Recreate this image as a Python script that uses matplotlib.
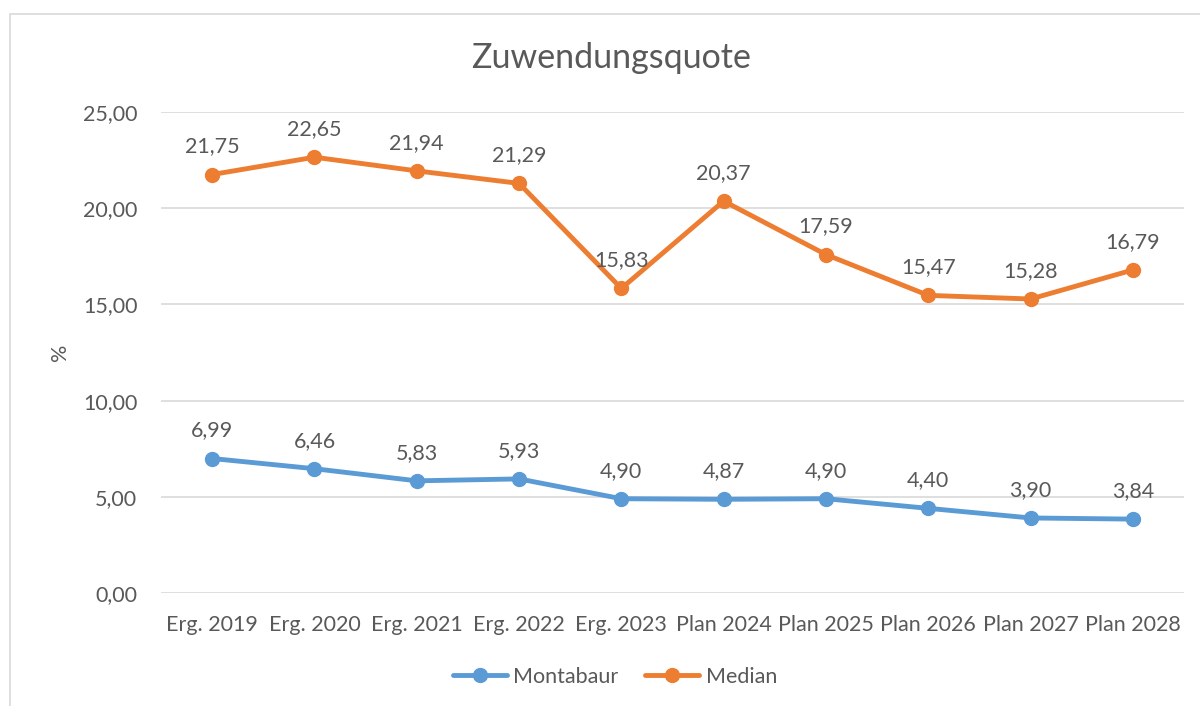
import matplotlib
matplotlib.use("Agg")
import matplotlib.pyplot as plt
import matplotlib.patches as patches
from matplotlib.ticker import FuncFormatter

# Chart data
categories = ["Erg. 2019", "Erg. 2020", "Erg. 2021", "Erg. 2022", "Erg. 2023",
              "Plan 2024", "Plan 2025", "Plan 2026", "Plan 2027", "Plan 2028"]
montabaur = [6.99, 6.46, 5.83, 5.93, 4.90, 4.87, 4.90, 4.40, 3.90, 3.84]
median = [21.75, 22.65, 21.94, 21.29, 15.83, 20.37, 17.59, 15.47, 15.28, 16.79]
y_ticks = [0, 5, 10, 15, 20, 25]

BLUE = "#5B9BD5"
ORANGE = "#ED7D31"
TEXT = "#595959"
GRID = "#D9D9D9"
FS = 15.5

plt.rcParams["font.family"] = ["Lato", "DejaVu Sans"]
plt.rcParams["text.color"] = TEXT


def de_fmt(v):
    return f"{v:.2f}".replace(".", ",")


fig = plt.figure(figsize=(12, 7.06), dpi=100)
fig.patch.set_facecolor("white")

# Chart border (cropped at right/bottom like the reference)
fig.patches.append(patches.Rectangle((10 / 1200, -0.1), 1.2, (706 - 14) / 706 + 0.1,
                                     transform=fig.transFigure, fill=False,
                                     edgecolor=GRID, linewidth=1.2))

ax = fig.add_axes([161 / 1200, 113 / 706, 1023 / 1200, 481 / 706])
x = list(range(len(categories)))

ax.plot(x, montabaur, color=BLUE, linewidth=3.5, marker="o", markersize=10,
        label="Montabaur", solid_capstyle="round", zorder=3)
ax.plot(x, median, color=ORANGE, linewidth=3.5, marker="o", markersize=10,
        label="Median", solid_capstyle="round", zorder=3)

for xi, v in zip(x, montabaur):
    ax.annotate(de_fmt(v), (xi, v), xytext=(0, 13), textcoords="offset points",
                ha="center", va="bottom", fontsize=FS, color=TEXT)
for xi, v in zip(x, median):
    ax.annotate(de_fmt(v), (xi, v), xytext=(0, 13), textcoords="offset points",
                ha="center", va="bottom", fontsize=FS, color=TEXT)

ax.set_xlim(-0.5, len(categories) - 0.5)
ax.set_ylim(0, 25)
ax.set_yticks(y_ticks)
ax.yaxis.set_major_formatter(FuncFormatter(lambda v, _: de_fmt(v)))
ax.set_xticks(x)
ax.set_xticklabels(categories)
ax.tick_params(axis="both", length=0, labelsize=FS, labelcolor=TEXT)
ax.tick_params(axis="y", pad=17)
ax.tick_params(axis="x", pad=16)
ax.grid(axis="y", color=GRID, linewidth=1.2)
ax.set_axisbelow(True)
for s in ax.spines.values():
    s.set_visible(False)

fig.text(60 / 1200, 1 - 352 / 706, "%", rotation=90, ha="center", va="center",
         fontsize=FS, color=TEXT)
fig.text(611 / 1200, 1 - 58 / 706, "Zuwendungsquote", ha="center", va="center",
         fontsize=24.5, color=TEXT)

fig.legend(loc="center", bbox_to_anchor=(615 / 1200, 1 - 677 / 706), ncol=2,
           frameon=False, fontsize=FS, handlelength=2.5, columnspacing=1.25,
           handletextpad=0.3, labelcolor=TEXT)

fig.savefig("out.png", dpi=100, facecolor="white")
